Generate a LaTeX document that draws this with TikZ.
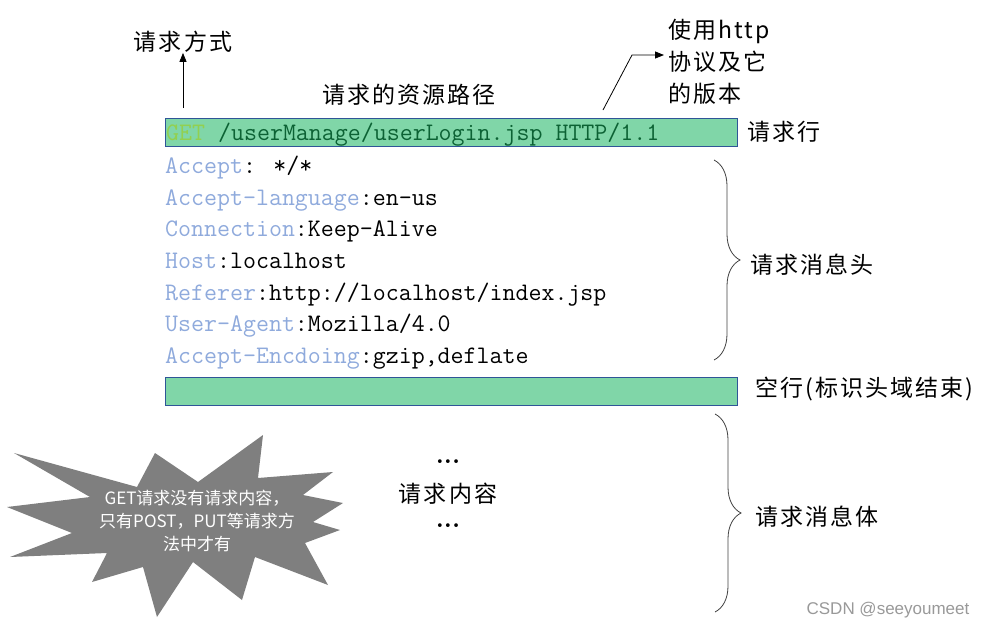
\documentclass[tikz,border=0pt]{standalone}
\usepackage{fontspec}
\newfontfamily\cjk[LetterSpace=9]{Noto Sans CJK SC}
\newfontfamily\cjktip{Noto Sans CJK SC}
\newfontfamily\wmark{Liberation Sans}
\usetikzlibrary{arrows.meta,decorations.pathreplacing}
\definecolor{rowgreen}{RGB}{128,214,168}
\definecolor{rowedge}{RGB}{47,85,151}
\definecolor{keyblue}{RGB}{143,170,220}
\definecolor{getgreen}{RGB}{146,208,80}
\definecolor{pathgreen}{RGB}{12,98,52}
\definecolor{stargray}{RGB}{127,127,127}
\newcommand{\hdr}[4]{\node[codetxt, anchor=base west] (#1) at (165,#2) {\textcolor{keyblue}{#3}#4};}

\begin{document}
\begin{tikzpicture}[x=1pt, y=-1pt,
  codetxt/.style={font=\fontsize{25.2}{26}\selectfont\ttfamily, inner sep=0pt},
  lbl/.style={font=\fontsize{23}{32}\selectfont\cjk, inner sep=0pt},
  rowbox/.style={draw=rowedge, fill=rowgreen, line width=0.8pt, minimum width=572pt,
    minimum height=28pt, anchor=north west, inner sep=0pt},
  arr/.style={line width=0.8pt, -{Triangle[length=9pt,width=7pt]}},
  brc/.style={decorate, decoration={brace, amplitude=26pt}, draw=black!75, line width=0.8pt},
  dots/.style={font=\fontsize{26}{26}\selectfont\bfseries, inner sep=0pt}]
  \useasboundingbox (0,0) rectangle (991,630);
  % request line
  \node[rowbox] (reqrow) at (165,118) {};
  \node[codetxt, anchor=base west] (reqtxt) at (166,140)
    {\textcolor{getgreen}{GET} \textcolor{pathgreen}{/userManage/userLogin.jsp HTTP/1.1}};
  \node[lbl, anchor=west] (reqlbl) at (747,132) {请求行};
  % labels above the request line
  \node[lbl] (method) at (183,42) {请求方式};
  \node[lbl] (respath) at (409,95) {请求的资源路径};
  \node[lbl, anchor=west, align=left] (version) at (668,62) {使用http\\协议及它\\的版本};
  \coordinate (methodfoot) at (183,108);
  \draw[arr] (methodfoot) -- (method.south);
  \coordinate (verfoot) at (603,110);
  \coordinate (verbend) at (632,55);
  \coordinate (vertip) at (664,55);
  \draw[arr] (verfoot) -- (verbend) -- (vertip);
  % header lines
  \hdr{h1}{173}{Accept}{: */*}
  \hdr{h2}{205}{Accept-language}{:en-us}
  \hdr{h3}{236}{Connection}{:Keep-Alive}
  \hdr{h4}{268}{Host}{:localhost}
  \hdr{h5}{300}{Referer}{:http://localhost/index.jsp}
  \hdr{h6}{331}{User-Agent}{:Mozilla/4.0}
  \hdr{h7}{363}{Accept-Encdoing}{:gzip,deflate}
  \draw[brc] (714,160) -- (714,360);
  \node[lbl, anchor=west] (hdrlbl) at (750,265) {请求消息头};
  % blank line
  \node[rowbox] (blankrow) at (165,377) {};
  \node[lbl, anchor=west] (blanklbl) at (755,389) {空行(标识头域结束)};
  % body
  \node[dots] (dotsup) at (448,462) {...};
  \node[lbl] (bodytxt) at (448,494) {请求内容};
  \node[dots] (dotsdn) at (448,526) {...};
  \draw[brc] (715,414) -- (715,612);
  \node[lbl, anchor=west] (bodylbl) at (755,517) {请求消息体};
  % starburst note
  \fill[stargray] (14,453) -- (137,487) -- (155,453) -- (198,482) -- (263,435) -- (258,478)
    -- (333,472) -- (303,495) -- (343,503) -- (313,522) -- (340,530) -- (305,543)
    -- (328,585) -- (255,557) -- (242,600) -- (193,562) -- (157,617) -- (143,567)
    -- (92,582) -- (107,553) -- (10,557) -- (72,533) -- (7,507) -- (90,497) -- cycle;
  \node[font=\fontsize{17}{23}\selectfont\cjktip, text=white, align=center, inner sep=0pt] (tip) at (197,521)
    {GET请求没有请求内容，\\只有POST，PUT等请求方\\法中才有};
  \node[font=\fontsize{17}{17}\selectfont\wmark, text=black!40, inner sep=0pt] (mark) at (888,610) {CSDN @seeyoumeet};
\end{tikzpicture}
\end{document}
